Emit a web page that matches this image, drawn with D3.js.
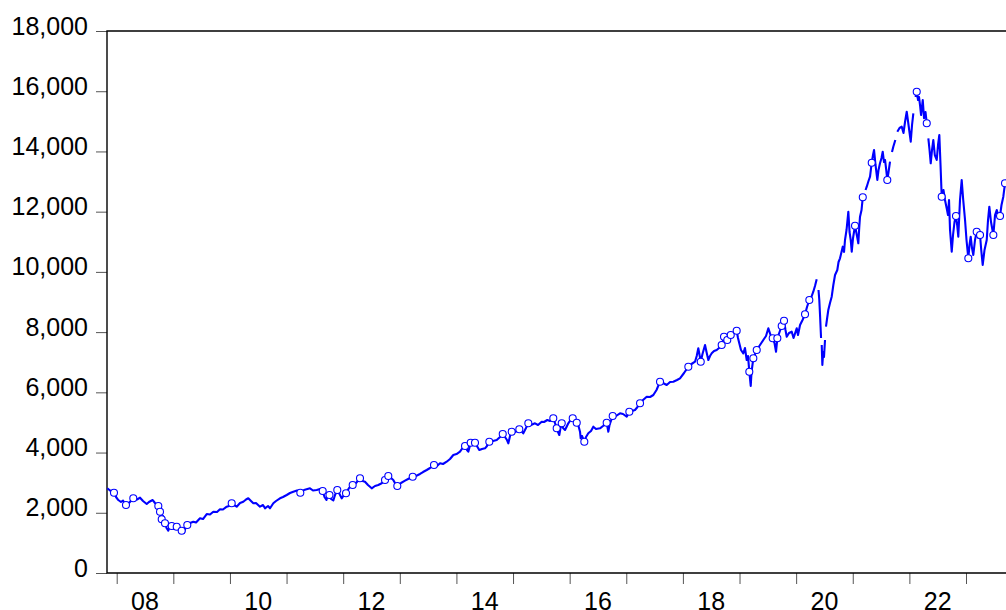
<!DOCTYPE html>
<html>
<head>
<meta charset="utf-8">
<script src="https://cdn.jsdelivr.net/npm/d3@7"></script>
<style>
  html, body { margin: 0; padding: 0; background: #fff; }
  svg { display: block; }
</style>
</head>
<body>
<div id="chart"></div>
<script>
/* Daily index level 2007-2023, EViews-style frame: outward ticks, two-digit
   year labels centred in the year, hollow circles on marked observations. */

// position on the time axis (decimal year) and index level; null = break in line
var dates = [
  2007.834,2007.882,2007.952,2007.988,2008.028,2008.076,2008.111,2008.164,2008.217,2008.293,
  2008.359,2008.412,2008.465,2008.530,2008.570,2008.636,2008.676,2008.735,2008.765,2008.795,
  2008.818,2008.853,2008.880,2008.911,2008.941,2008.971,2009.012,2009.060,2009.100,2009.148,
  2009.189,2009.215,2009.247,2009.295,2009.353,2009.401,2009.471,2009.524,2009.590,2009.648,
  2009.706,2009.772,2009.824,2009.877,2009.943,2009.983,2010.031,2010.072,2010.119,2010.178,
  2010.236,2010.284,2010.324,2010.372,2010.413,2010.460,2010.531,2010.584,2010.619,2010.672,
  2010.708,2010.766,2010.814,2010.884,2010.937,2011.003,2011.061,2011.119,2011.184,2011.243,
  2011.308,2011.414,2011.467,2011.532,2011.591,2011.638,2011.670,2011.705,2011.732,2011.758,
  2011.785,2011.826,2011.856,2011.896,2011.935,2011.974,2012.015,2012.050,2012.103,2012.168,
  2012.227,2012.297,2012.341,2012.385,2012.438,2012.504,2012.562,2012.620,2012.680,2012.739,
  2012.797,2012.845,2012.885,2012.924,2012.956,2013.021,2013.092,2013.163,2013.228,2013.286,
  2013.357,2013.410,2013.475,2013.534,2013.604,2013.657,2013.710,2013.763,2013.828,2013.887,
  2013.945,2014.002,2014.063,2014.108,2014.152,2014.187,2014.210,2014.252,2014.293,2014.328,
  2014.372,2014.404,2014.452,2014.505,2014.540,2014.581,2014.646,2014.712,2014.770,2014.818,
  2014.858,2014.893,2014.917,2014.947,2014.976,2015.035,2015.111,2015.150,2015.181,2015.229,
  2015.270,2015.317,2015.388,2015.441,2015.506,2015.547,2015.605,2015.653,2015.711,2015.741,
  2015.771,2015.794,2015.817,2015.838,2015.860,2015.883,2015.918,2015.953,2015.976,2016.015,
  2016.054,2016.086,2016.125,2016.156,2016.183,2016.195,2016.218,2016.259,2016.289,2016.329,
  2016.377,2016.418,2016.465,2016.536,2016.589,2016.654,2016.683,2016.704,2016.760,2016.819,
  2016.889,2016.942,2017.008,2017.054,2017.101,2017.154,2017.198,2017.243,2017.296,2017.361,
  2017.420,2017.478,2017.534,2017.596,2017.649,2017.714,2017.773,2017.831,2017.896,2017.949,
  2018.020,2018.096,2018.152,2018.214,2018.244,2018.272,2018.294,2018.315,2018.346,2018.391,
  2018.417,2018.449,2018.479,2018.509,2018.550,2018.597,2018.638,2018.685,2018.726,2018.784,
  2018.845,2018.894,2018.950,2018.973,2018.996,2019.026,2019.067,2019.096,2019.127,2019.150,
  2019.173,2019.198,2019.212,2019.244,2019.274,2019.304,2019.362,2019.420,2019.468,2019.509,
  2019.548,2019.586,2019.618,2019.645,2019.668,2019.707,2019.745,2019.786,2019.812,2019.834,
  2019.874,2019.922,2019.954,2020.010,2020.033,2020.069,2020.113,2020.157,2020.192,2020.233,
  2020.263,2020.303,2020.333,2020.363,2020.380,2020.395,2020.409,2020.422,2020.440,2020.446,
  2020.452,2020.463,2020.478,2020.492,2020.510,2020.519,2020.527,2020.548,2020.568,2020.598,
  2020.628,2020.657,2020.687,2020.727,2020.749,2020.775,2020.823,2020.846,2020.863,2020.890,
  2020.922,2020.943,2020.964,2020.982,2021.005,2021.040,2021.075,2021.098,2021.114,2021.128,
  2021.155,2021.177,2021.200,2021.226,2021.247,2021.278,2021.305,2021.335,2021.358,2021.376,
  2021.402,2021.434,2021.455,2021.481,2021.508,2021.529,2021.552,2021.570,2021.591,2021.610,
  2021.632,2021.658,2021.675,2021.693,2021.716,2021.752,2021.770,2021.787,2021.826,
  2021.865,2021.896,2021.923,2021.953,2021.985,2022.024,2022.047,2022.070,2022.090,
  2022.109,2022.130,2022.153,2022.170,2022.188,2022.206,2022.236,2022.259,2022.285,2022.307,2022.321,
  2022.335,2022.356,2022.377,2022.400,2022.423,2022.449,2022.483,2022.506,2022.529,2022.550,
  2022.571,2022.602,2022.629,2022.659,2022.682,2022.700,2022.718,2022.748,2022.771,2022.797,
  2022.823,2022.844,2022.864,2022.894,2022.924,2022.951,2022.983,2023.009,2023.041,2023.062,
  2023.083,2023.106,2023.129,2023.159,2023.189,2023.218,2023.248,2023.269,2023.295,2023.327,
  2023.366,2023.389,2023.412,2023.442,2023.483,2023.513,2023.543,2023.569,2023.601,2023.627,2023.659,2023.689,2023.706
];
var values = [
  2813,2740,2667,2524,2424,2358,2408,2258,2325,2481,
  2441,2501,2391,2291,2358,2424,2325,2225,2036,1783,
  1893,1651,1494,1405,1594,1561,1461,1538,1428,1405,
  1338,1494,1594,1661,1704,1677,1817,1793,1959,1943,
  2036,2026,2115,2109,2202,2225,2315,2258,2202,2325,
  2368,2441,2481,2391,2315,2325,2202,2258,2149,2225,
  2149,2315,2391,2481,2524,2590,2657,2700,2740,2667,
  2756,2813,2740,2756,2790,2723,2524,2424,2624,2590,
  2458,2408,2590,2756,2624,2481,2590,2647,2823,2922,
  2989,3145,3055,3032,2922,2813,2889,2922,2979,3089,
  3221,3155,3089,2956,2889,2989,3065,3138,3198,3221,
  3288,3354,3421,3487,3587,3553,3643,3620,3696,3786,
  3919,3952,4028,4151,4218,4085,4028,4327,4284,4327,
  4184,4085,4118,4141,4218,4360,4384,4417,4517,4616,
  4517,4417,4307,4550,4693,4683,4772,4716,4639,4815,
  4971,4915,4971,4915,5025,5015,5081,5048,5138,4982,
  4805,4683,4583,4815,4971,4815,4749,4882,4971,5081,
  5138,5114,4991,4882,4693,4473,4550,4360,4517,4639,
  4716,4859,4782,4805,4882,4991,4693,4915,5214,5214,
  5304,5280,5191,5357,5380,5413,5513,5636,5745,5855,
  5845,5911,6077,6353,6310,6243,6343,6353,6410,6466,
  6642,6851,6941,7017,7207,7462,7240,7017,7273,7572,
  7339,7074,7207,7296,7373,7406,7472,7572,7848,7738,
  7904,7970,8047,7804,7628,7406,7296,7472,7074,7207,
  6685,6210,6675,7130,7273,7406,7572,7738,7871,8126,
  7904,7794,7638,7349,7794,8004,8203,8379,8070,7848,
  7970,8014,7804,8126,7904,8236,8402,8591,8834,9066,
  9133,9342,9531,9754,null,9398,9066,8568,7804,null,
  7572,6908,7339,7173,7738,null,8180,8469,8734,8967,
  9176,9564,9897,10063,10328,10451,10837,10660,11059,11391,
  11999,11325,11059,10670,11125,11534,11192,10949,11457,11833,
  12055,12477,null,12719,12829,13018,13161,13626,13882,14048,
  13550,13052,13384,13606,13782,13991,13649,13716,13384,13052,
  13317,13659,null,13981,14157,14380,null,14656,14778,
  14822,14612,14978,15320,14878,14324,14878,15266,null,
  15808,15984,15708,15808,15542,15210,15708,15101,15310,14935,null,
  14436,14048,13606,14048,14380,13882,13716,14214,14546,13550,
  12497,12719,12387,12112,11889,12387,11391,10670,11225,11657,
  11856,11557,11168,12387,13052,12387,11723,11059,10451,10893,
  11168,10793,10561,11059,11335,11125,11225,10727,10229,10727,
  11059,11723,12165,11657,11225,11889,12055,11889,11856,12221,12497,12942,13052
];

// observations carrying a hollow circle marker
var markDates = [
  2007.952,2008.164,2008.293,2008.735,2008.765,2008.795,2008.853,2008.971,2009.060,2009.148,
  2009.247,2010.031,2011.243,2011.638,2011.758,2011.896,2012.050,2012.168,2012.297,2012.739,
  2012.797,2012.956,2013.228,2013.604,2014.152,2014.252,2014.328,2014.581,2014.818,2014.976,
  2015.111,2015.270,2015.711,2015.771,2015.860,2016.054,2016.125,2016.259,2016.654,2016.760,
  2017.054,2017.243,2017.596,2018.096,2018.315,2018.685,2018.726,2018.784,2018.845,2018.950,
  2019.173,2019.244,2019.304,2019.586,2019.668,2019.745,2019.786,2020.157,2020.233,2021.040,
  2021.177,2021.335,2021.610,2022.130,2022.307,2022.571,2022.823,2023.041,2023.189,2023.248,
  2023.483,2023.601,2023.689
];
var markValues = [
  2667,2258,2481,2225,2036,1783,1651,1561,1538,1405,
  1594,2315,2667,2723,2590,2756,2647,2922,3145,3089,
  3221,2889,3198,3587,4218,4327,4327,4360,4616,4693,
  4772,4971,5138,4805,4971,5138,4991,4360,4991,5214,
  5357,5636,6353,6851,7017,7572,7848,7738,7904,8047,
  6685,7130,7406,7794,7794,8203,8379,8591,9066,11534,
  12477,13626,13052,15984,14935,12497,11856,10451,11335,11225,
  11225,11856,12942
];

var yTicks = [0, 2000, 4000, 6000, 8000, 10000, 12000, 14000, 16000, 18000];
var yearTicks = d3.range(2008, 2024);
var yearLabels = ["08", "10", "12", "14", "16", "18", "20", "22"];

(function () {
  var W = 1006, H = 610;
  var left = 107, top = 31, bottom = 573, right = 1006;
  var tStart = 2008 - (116.7 - left) / 56.62;   // axis starts a little before 2008
  var tEnd = 2008 + (right - 116.7) / 56.62;
  var font = "Arial, 'Liberation Sans', sans-serif";

  var svg = d3.select("#chart").append("svg")
    .attr("width", W).attr("height", H)
    .style("font-family", font);

  var x = d3.scaleLinear().domain([tStart, tEnd]).range([left, right]);
  var y = d3.scaleLinear().domain([0, 18000]).range([bottom, top]);

  var series = dates.map(function (d, i) {
    return { t: d, v: i < values.length ? values[i] : null };
  });
  var marks = markDates.map(function (d, i) { return { t: d, v: markValues[i] }; });

  // y axis, ticks outward
  var yAxis = svg.append("g").attr("transform", "translate(" + left + ",0)")
    .call(d3.axisLeft(y).tickValues(yTicks).tickSize(11).tickPadding(8)
      .tickFormat(d3.format(",")));
  yAxis.select(".domain").remove();
  yAxis.selectAll(".tick line").attr("stroke", "#555").attr("stroke-width", 1);
  yAxis.selectAll(".tick text").attr("font-size", "25px").attr("fill", "#000")
    .attr("dy", "0.12em").style("font-family", font);

  // x axis: a tick at each year boundary, labels centred inside even years
  var xAxis = svg.append("g").attr("transform", "translate(0," + bottom + ")")
    .call(d3.axisBottom(x).tickValues(yearTicks).tickSize(11).tickFormat(""));
  xAxis.select(".domain").remove();
  xAxis.selectAll(".tick line").attr("stroke", "#555").attr("stroke-width", 1);

  svg.append("g").selectAll("text").data(yearLabels).join("text")
    .attr("x", function (d) { return x(2000 + +d + 0.5); })
    .attr("y", 610)
    .attr("text-anchor", "middle").attr("font-size", "25px").attr("fill", "#000")
    .text(function (d) { return d; });

  // frame (right side runs off the picture)
  svg.append("path")
    .attr("d", "M" + (right + 4) + "," + top + "H" + left + "V" + bottom + "H" + (right + 4))
    .attr("fill", "none").attr("stroke", "#000").attr("stroke-width", 1.4);

  var line = d3.line()
    .defined(function (d) { return d.v != null; })
    .x(function (d) { return x(d.t); })
    .y(function (d) { return y(d.v); });

  svg.append("path").datum(series)
    .attr("d", line).attr("fill", "none")
    .attr("stroke", "#0000ff").attr("stroke-width", 2.1)
    .attr("stroke-linejoin", "round");

  svg.append("g").selectAll("circle").data(marks).join("circle")
    .attr("cx", function (d) { return x(d.t); })
    .attr("cy", function (d) { return y(d.v); })
    .attr("r", 3.5).attr("fill", "#fff")
    .attr("stroke", "#0000ff").attr("stroke-width", 1.1);
})();
</script>
</body>
</html>
